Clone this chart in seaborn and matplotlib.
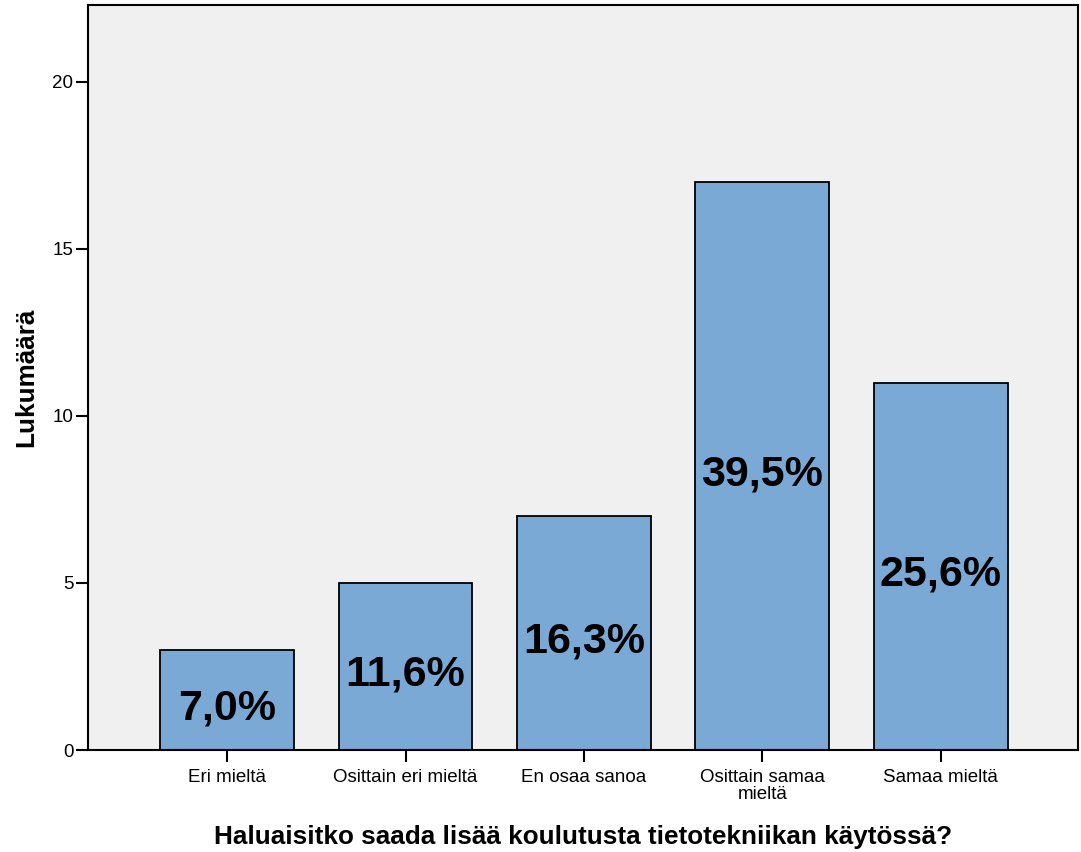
import matplotlib
matplotlib.use("Agg")
import matplotlib.pyplot as plt
import seaborn as sns
import pandas as pd

categories = ["Eri mieltä", "Osittain eri mieltä", "En osaa sanoa",
              "Osittain samaa\nmieltä", "Samaa mieltä"]
counts = [3, 5, 7, 17, 11]
percent_labels = ["7,0%", "11,6%", "16,3%", "39,5%", "25,6%"]
y_ticks = [0, 5, 10, 15, 20]

sns.set_theme(style="white")
plt.rcParams["font.family"] = ["Liberation Sans", "DejaVu Sans"]
plt.rcParams["text.color"] = "black"
plt.rcParams["axes.labelcolor"] = "black"
plt.rcParams["xtick.color"] = "black"
plt.rcParams["ytick.color"] = "black"

df = pd.DataFrame({"cat": categories, "n": counts})

fig = plt.figure(figsize=(10.81, 8.52), dpi=100)
ax = fig.add_axes([0.0814, 0.1197, 0.9158, 0.8744])
ax.set_facecolor("#F0F0F0")

sns.barplot(data=df, x="cat", y="n", color="#7BA9D6", saturation=1,
            edgecolor="black", linewidth=1.3, width=0.75, ax=ax)

for i, (v, lab) in enumerate(zip(counts, percent_labels)):
    ax.text(i, v / 2 - 0.25, lab, ha="center", va="center",
            fontsize=31, fontweight="bold", color="black")

ax.set_xlim(-0.78, 4.77)
ax.set_ylim(0, 22.3)
ax.set_yticks(y_ticks)
ax.set_yticklabels([str(t) for t in y_ticks], fontsize=13.5)
ax.set_xticks(range(len(categories)))
ax.set_xticklabels(categories, fontsize=13.5, linespacing=1.0)
ax.tick_params(axis="both", direction="out", length=8.5, width=1.5,
               colors="black", bottom=True, left=True, pad=2)
ax.tick_params(axis="x", pad=5)

for s in ax.spines.values():
    s.set_visible(True)
    s.set_color("black")
    s.set_linewidth(1.5)

ax.set_xlabel("Haluaisitko saada lisää koulutusta tietotekniikan käytössä?",
              fontsize=18.8, fontweight="bold", labelpad=16)
ax.set_ylabel("Lukumäärä", fontsize=18.8, fontweight="bold", labelpad=10)

fig.savefig("out.png", dpi=100)
